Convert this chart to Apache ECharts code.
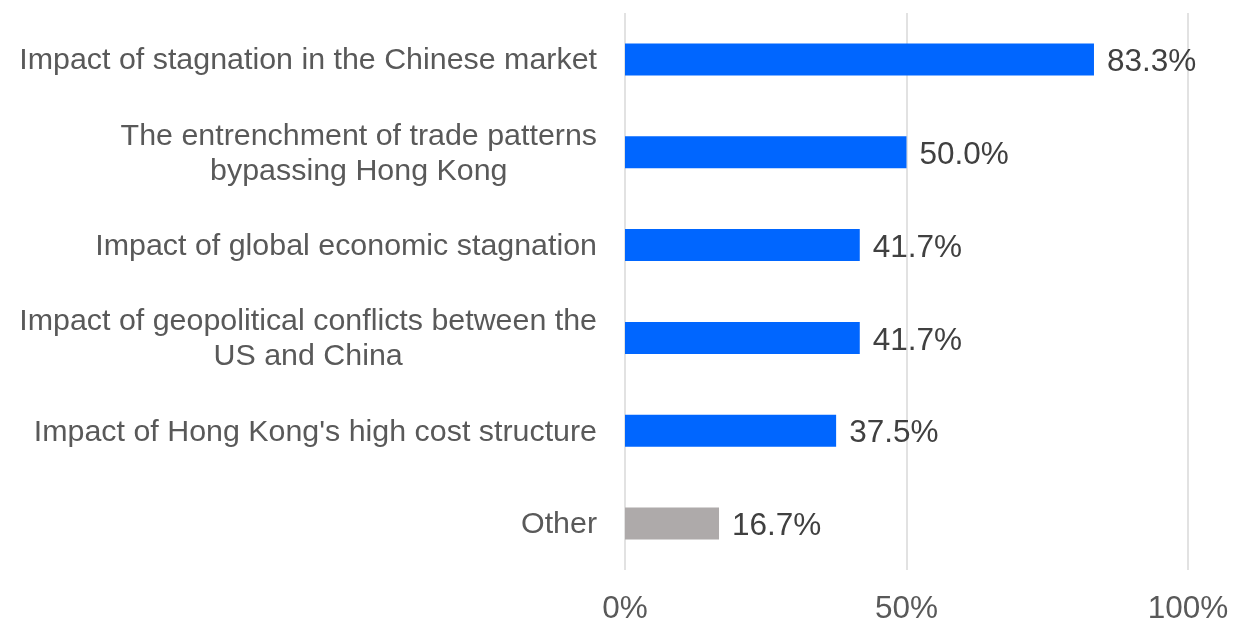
<!DOCTYPE html>
<html>
<head>
<meta charset="utf-8">
<script src="https://cdn.jsdelivr.net/npm/echarts@6/dist/echarts.min.js"></script>
<style>
  html, body { margin: 0; padding: 0; background: #ffffff; }
  #chart { width: 1248px; height: 628px; }
</style>
</head>
<body>
<div id="chart"></div>
<script>
// Survey factors, listed top to bottom
const categories = [
  'Impact of stagnation in the Chinese market',
  'The entrenchment of trade patterns\nbypassing Hong Kong',
  'Impact of global economic stagnation',
  'Impact of geopolitical conflicts between the\nUS and China',
  "Impact of Hong Kong's high cost structure",
  'Other'
];
// Share of respondents (%)
const shares = [83.3, 50.0, 41.7, 41.7, 37.5, 16.7];
const axisTicks = [0, 50, 100];

const BLUE = '#0066FF';
const GREY = '#AEAAAA';
const FONT = '"Liberation Sans", Arial, sans-serif';

const chart = echarts.init(document.getElementById('chart'), null, { renderer: 'canvas' });

chart.setOption({
  animation: false,
  backgroundColor: '#ffffff',
  grid: { left: 625, right: 60, top: 13, bottom: 58, containLabel: false },
  xAxis: {
    type: 'value',
    min: axisTicks[0],
    max: axisTicks[axisTicks.length - 1],
    interval: axisTicks[1] - axisTicks[0],
    axisLine: { show: false },
    axisTick: { show: false },
    splitLine: { show: true, lineStyle: { color: '#D9D9D9', width: 1.5 } },
    axisLabel: {
      formatter: '{value}%',
      color: '#595959',
      fontFamily: FONT,
      fontSize: 31.5,
      margin: 23
    }
  },
  yAxis: {
    type: 'category',
    inverse: true,
    data: categories,
    axisLine: { show: false },
    axisTick: { show: false },
    splitLine: { show: false },
    axisLabel: {
      margin: 28,
      align: 'right',
      formatter: v => v.split('\n').map(line => '{c|' + line + '}').join('\n'),
      rich: {
        c: {
          align: 'center',
          color: '#595959',
          fontFamily: FONT,
          fontSize: 30.4,
          lineHeight: 35,
          padding: [3, 0, 0, 0]
        }
      }
    }
  },
  series: [{
    type: 'bar',
    barWidth: 32,
    data: shares.map((v, i) => ({
      value: v,
      itemStyle: { color: categories[i] === 'Other' ? GREY : BLUE }
    })),
    label: {
      show: true,
      position: 'right',
      distance: 13,
      offset: [0, 3],
      formatter: p => p.value.toFixed(1) + '%',
      color: '#404040',
      fontFamily: FONT,
      fontSize: 31.5
    }
  }]
});
</script>
</body>
</html>
